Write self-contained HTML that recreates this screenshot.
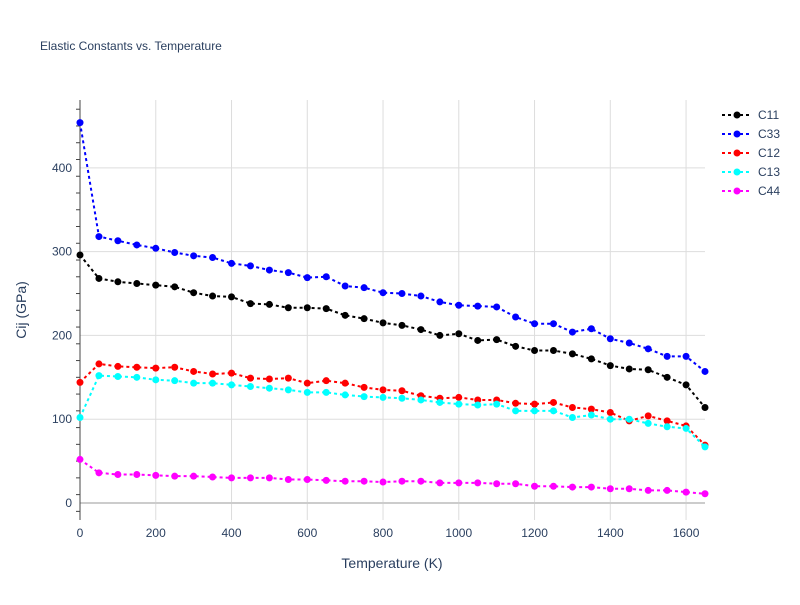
<!DOCTYPE html>
<html><head><meta charset="utf-8"><style>
body{margin:0;background:#fff;font-family:"Liberation Sans",sans-serif}
svg text{font-family:"Liberation Sans",sans-serif}
</style></head><body>
<svg id="chart" width="800" height="600">
<rect width="800" height="600" fill="#fff"/>
<text x="40" y="50" font-size="12" fill="#2a3f5f">Elastic Constants vs. Temperature</text>
<g id="grid"></g><g id="axes"></g><g id="series"></g><g id="legend"></g>
<text x="392" y="568" font-size="14" fill="#2a3f5f" text-anchor="middle">Temperature (K)</text>
<text transform="translate(26,310) rotate(-90)" font-size="14" fill="#2a3f5f" text-anchor="middle">Cij (GPa)</text>
</svg>
<script>
const temps=[0,50,100,150,200,250,300,350,400,450,500,550,600,650,700,750,800,850,900,950,1000,1050,1100,1150,1200,1250,1300,1350,1400,1450,1500,1550,1600,1650];
const c11=[296,268,264,262,260,258,251,247,246,238,237,233,233,232,224,220,215,212,207,200,202,194,195,187,182,182,178,172,164,160,159,150,141,114];
const c33=[454,318,313,308,304,299,295,293,286,283,278,275,269,270,259,257,251,250,247,240,236,235,234,222,214,214,204,208,196,191,184,175,175,157];
const c12=[144,166,163,162,161,162,157,154,155,149,148,149,143,146,143,138,135,134,128,125,126,123,123,119,118,120,114,112,108,98,104,98,92,69];
const c13=[102,152,151,150,147,146,143,143,141,139,137,135,132,132,129,127,126,125,123,120,118,117,118,110,110,110,102,105,100,100,95,91,89,67];
const c44=[52,36,34,34,33,32,32,31,30,30,30,28,28,27,26,26,25,26,26,24,24,24,23,23,20,20,19,19,17,17,15,15,13,11];
const xTicks=[0,200,400,600,800,1000,1200,1400,1600];
const yTicks=[0,100,200,300,400];
const seriesNames=["C11","C33","C12","C13","C44"];
const seriesColors=["#000000","#0000ff","#ff0000","#00ffff","#ff00ff"];
const seriesData=[c11,c33,c12,c13,c44];

const X0=80,X1=705,Y0=520,Y1=100,xMin=0,xMax=1650,yMin=-20.3,yMax=481;
const sx=v=>X0+(v-xMin)/(xMax-xMin)*(X1-X0);
const sy=v=>Y0-(v-yMin)/(yMax-yMin)*(Y0-Y1);
const NS="http://www.w3.org/2000/svg";
function mk(t,a,p){const e=document.createElementNS(NS,t);for(const k in a)e.setAttribute(k,a[k]);p.appendChild(e);return e;}
const grid=document.getElementById('grid'),axes=document.getElementById('axes'),ser=document.getElementById('series'),leg=document.getElementById('legend');
xTicks.forEach(t=>{
 if(t>0){const l=mk('line',{x1:sx(t),x2:sx(t),y1:Y1,y2:Y0,stroke:'#ddd'},grid);
 
 }
 const tx=mk('text',{x:sx(t),y:Y0+17,'font-size':12,fill:'#2a3f5f','text-anchor':'middle'},axes);tx.textContent=t;
 
 
});
yTicks.forEach(t=>{
 const l=mk('line',{x1:X0,x2:X1,y1:sy(t),y2:sy(t),stroke:t===0?'#ccc':'#ddd','stroke-width':t===0?2:1},grid);
 
 
 const tx=mk('text',{x:X0-8,y:sy(t)+4,'font-size':12,fill:'#2a3f5f','text-anchor':'end'},axes);tx.textContent=t;
 
 
});
for(let v=-10;v<=480;v+=20){mk('line',{x1:X0-4,x2:X0,y1:sy(v),y2:sy(v),stroke:'#444'},axes);}
const ax=mk('line',{x1:X0,x2:X0,y1:Y1,y2:Y0,stroke:'#444'},axes);


seriesData.forEach((d,i)=>{
 const g=mk('g',{},ser);
 
 
 mk('polyline',{points:d.map((v,j)=>sx(temps[j])+','+sy(v)).join(' '),fill:'none',stroke:seriesColors[i],'stroke-width':2,'stroke-dasharray':'3,3'},g);
 d.forEach((v,j)=>{const c=mk('circle',{cx:sx(temps[j]),cy:sy(v),r:3.5,fill:seriesColors[i]},g);
  
  });
 const ly=115+i*19;
 const lg=mk('g',{},leg);
 
 
 mk('line',{x1:722,x2:752,y1:ly,y2:ly,stroke:seriesColors[i],'stroke-width':2,'stroke-dasharray':'3,3'},lg);
 mk('circle',{cx:737,cy:ly,r:3.5,fill:seriesColors[i]},lg);
 const t=mk('text',{x:758,y:ly+4,'font-size':12,fill:'#2a3f5f'},lg);t.textContent=seriesNames[i];
});
</script>
</body></html>
